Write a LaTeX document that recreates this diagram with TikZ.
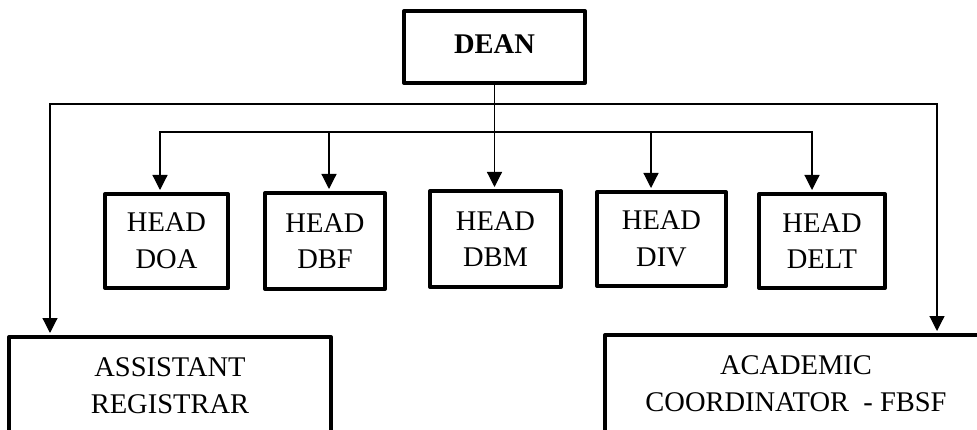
\documentclass[tikz,border=0pt]{standalone}
\usepackage{fontspec}
\setmainfont{Liberation Serif}
\usetikzlibrary{arrows.meta}
\begin{document}
\begin{tikzpicture}[x=1pt,y=-1pt,
  box/.style={draw,line width=4pt,line join=round,inner sep=0pt,align=center,
    font=\fontsize{28.5}{36.7}\selectfont},
  arr/.style={line width=1.2pt,-{Triangle[width=15pt,length=15pt]},shorten >=2pt},
  conn/.style={line width=1.2pt}]
\useasboundingbox (0,0) rectangle (977,430);
\begin{scope}
\clip (0,0) rectangle (977,430);
\node[box,minimum width=181pt,minimum height=72pt,font=\fontsize{28.5}{36.7}\selectfont\bfseries] (dean) at (494.5,47) {\raisebox{6pt}{DEAN}};
\node[box,minimum width=123pt,minimum height=94pt] (doa) at (166.5,241) {HEAD\\DOA};
\node[box,minimum width=120pt,minimum height=96pt] (dbf) at (325,241) {HEAD\\DBF};
\node[box,minimum width=131pt,minimum height=96pt] (dbm) at (495.5,239) {HEAD\\DBM};
\node[box,minimum width=129pt,minimum height=94pt] (div) at (661.5,239) {HEAD\\DIV};
\node[box,minimum width=126pt,minimum height=94pt] (delt) at (822,241) {HEAD\\DELT};
\node[box,minimum width=322pt,minimum height=97pt] (asst) at (170,385.5) {ASSISTANT\\REGISTRAR};
\node[box,minimum width=382pt,minimum height=98pt] (acad) at (796,384) {ACADEMIC\\COORDINATOR\ \ - FBSF};
\coordinate (jo) at (494.5,104);
\coordinate (ji) at (494.5,132);
\draw[arr] (dean.south) -- (dbm.north -| dean.south);
\draw[arr] (jo) -| ([xshift=-120pt]asst.north);
\draw[arr] (jo) -| ([xshift=141pt]acad.north);
\draw[arr] (ji) -| ([xshift=-6.5pt]doa.north);
\draw[arr] (ji) -| ([xshift=4pt]dbf.north);
\draw[arr] (ji) -| ([xshift=-10.5pt]div.north);
\draw[arr] (ji) -| ([xshift=-10pt]delt.north);
\end{scope}
\end{tikzpicture}
\end{document}
